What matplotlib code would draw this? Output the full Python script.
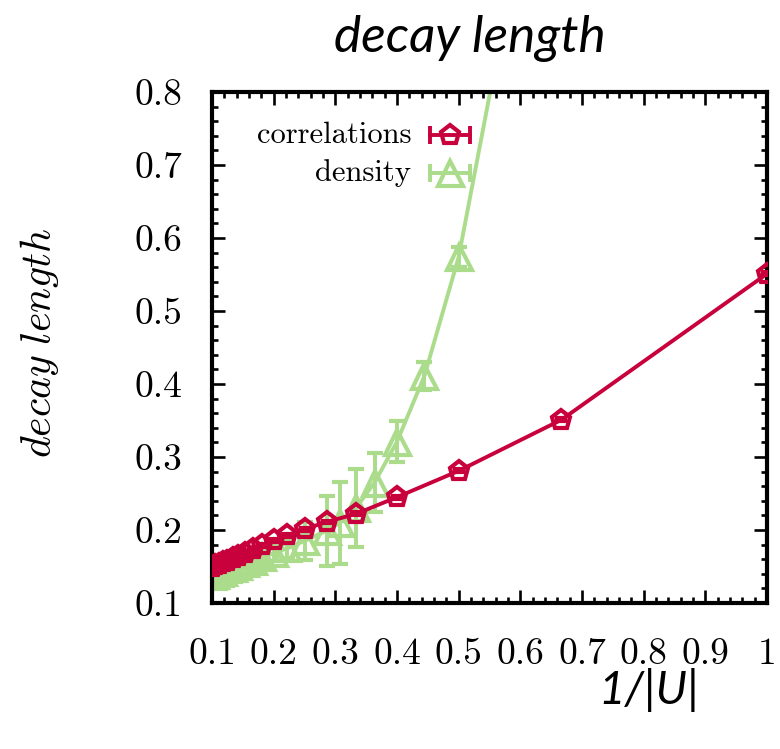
import matplotlib
matplotlib.use("Agg")
import matplotlib.pyplot as plt
from matplotlib.ticker import MultipleLocator, FixedLocator, FixedFormatter

plt.rcParams['mathtext.fontset'] = 'cm'
plt.rcParams['axes.formatter.use_mathtext'] = True

# ---- data ----
corr_x = [1.0, 1/1.5, 1/2, 1/2.5, 1/3, 1/3.5, 1/4, 1/4.5, 1/5, 1/5.5, 1/6, 1/6.5,
          1/7, 1/7.5, 1/8, 1/8.5, 1/9, 1/9.5, 1/10]
corr_y = [0.551, 0.351, 0.281, 0.245, 0.222, 0.211, 0.201, 0.193, 0.186, 0.179, 0.174,
          0.169, 0.165, 0.161, 0.158, 0.156, 0.154, 0.152, 0.150]
corr_err = [0.002] * len(corr_x)

dens_x = [1/1.75, 1/2, 1/2.25, 1/2.5, 1/2.75, 1/3, 1/3.25, 1/3.5, 1/4, 1/4.5, 1/5,
          1/5.5, 1/6, 1/6.5, 1/7, 1/7.5, 1/8, 1/8.5, 1/9, 1/9.5, 1/10]
dens_y = [0.89, 0.574, 0.411, 0.321, 0.265, 0.230, 0.210, 0.199, 0.185, 0.175, 0.168,
          0.163, 0.158, 0.155, 0.151, 0.148, 0.146, 0.143, 0.141, 0.139, 0.137]
dens_err = [0.02, 0.014, 0.019, 0.028, 0.041, 0.053, 0.056, 0.048, 0.026, 0.014, 0.010,
            0.008, 0.007, 0.006, 0.005, 0.005, 0.004, 0.004, 0.004, 0.003, 0.003]

xtick_vals = [0.1, 0.2, 0.3, 0.4, 0.5, 0.6, 0.7, 0.8, 0.9, 1.0]
xtick_labels = ["0.1", "0.2", "0.3", "0.4", "0.5", "0.6", "0.7", "0.8", "0.9", "1"]
ytick_vals = [0.1, 0.2, 0.3, 0.4, 0.5, 0.6, 0.7, 0.8]
ytick_labels = ["0.1", "0.2", "0.3", "0.4", "0.5", "0.6", "0.7", "0.8"]

series_names = ["correlations", "density"]
RED = "#c8003c"
GREEN = "#aadc8c"

fig = plt.figure(figsize=(7.8, 7.49), dpi=100)
ax = fig.add_axes([212/780, 1-603/749, (767-212)/780, (603-92)/749])

ax.errorbar(dens_x, dens_y, yerr=dens_err, color=GREEN, lw=2.8, marker='^', ms=18,
            mfc='none', mec=GREEN, mew=3.0, ecolor=GREEN, elinewidth=2.8,
            capsize=6, capthick=2.8, zorder=2)
ax.errorbar(corr_x, corr_y, yerr=corr_err, color=RED, lw=2.8, marker='p', ms=14,
            mfc='none', mec=RED, mew=3.0, ecolor=RED, elinewidth=2.6,
            capsize=4, capthick=2.6, zorder=3)

ax.set_xlim(0.1, 1.0)
ax.set_ylim(0.1, 0.8)
ax.xaxis.set_major_locator(FixedLocator(xtick_vals))
ax.xaxis.set_major_formatter(FixedFormatter(xtick_labels))
ax.yaxis.set_major_locator(FixedLocator(ytick_vals))
ax.yaxis.set_major_formatter(FixedFormatter(ytick_labels))
ax.xaxis.set_minor_locator(MultipleLocator(0.02))
ax.yaxis.set_minor_locator(MultipleLocator(0.02))
ax.tick_params(which='both', direction='in', top=True, right=True, width=1.9,
               labelsize=27, labelfontfamily='cmr10', colors='black')
ax.tick_params(which='major', length=9.5)
ax.tick_params(which='minor', length=4.5)
ax.tick_params(axis='y', which='major', pad=21)
ax.tick_params(axis='x', which='major', pad=25)
for s in ax.spines.values():
    s.set_linewidth(3.0)

# legend (gnuplot style, manual)
leg_rows = [(0.916, RED, 'p', 14), (0.8415, GREEN, '^', 18)]
for name, (yy, c, m, ms) in zip(series_names, leg_rows):
    ax.text(0.3586, yy, name, transform=ax.transAxes, ha='right', va='center',
            fontsize=22, family='cmr10')
    ax.plot([0.393, 0.465], [yy, yy], transform=ax.transAxes, color=c, lw=2.8,
            clip_on=False)
    ax.plot([0.393, 0.465], [yy, yy], transform=ax.transAxes, color=c, lw=0,
            marker='|', ms=13, mew=2.8, clip_on=False)
    ax.plot([0.429], [yy], transform=ax.transAxes, color=c, lw=0, marker=m, ms=ms,
            mfc='none', mec=c, mew=3.0, clip_on=False)

fig.text(470/780, 1-38/749, "decay length", ha='center', va='center',
         fontsize=37, family='Lato', style='italic')
fig.text(649/780, 1-690/749, "1/|U|", ha='center', va='center',
         fontsize=33, family='Lato', style='italic')
fig.text(40/780, 1-343/749, r'$decay\ length$', ha='center', va='center',
         rotation=90, fontsize=30)

fig.savefig("out.png", dpi=100)
